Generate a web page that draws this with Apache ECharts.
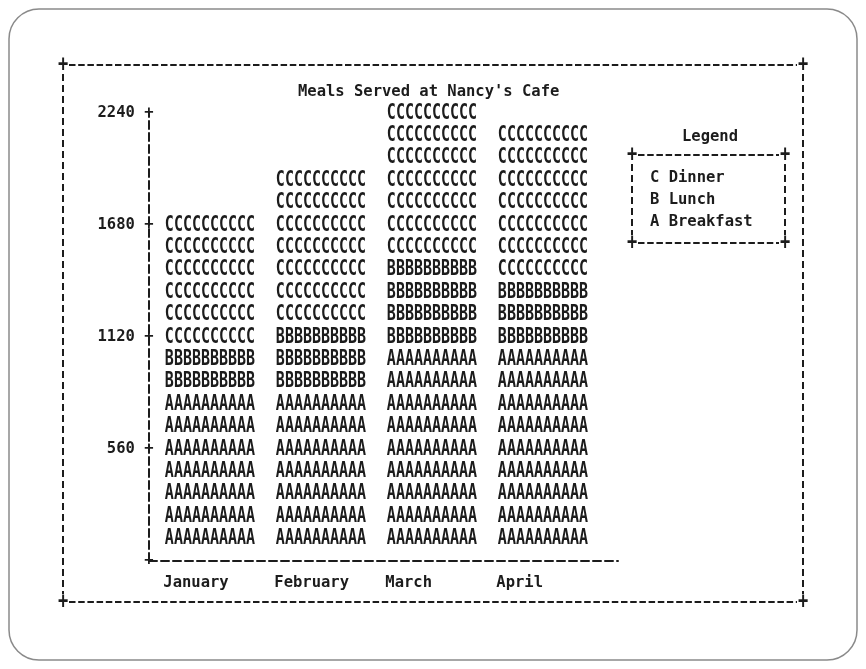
<!DOCTYPE html>
<html>
<head>
<meta charset="UTF-8">
<title>Meals Served at Nancy's Cafe</title>
<script src="https://cdn.jsdelivr.net/npm/echarts/dist/echarts.min.js"></script>
<style>
  html, body { margin: 0; padding: 0; background: #fff; }
  #main { width: 866px; height: 669px; }
</style>
</head>
<body>
<div id="main"></div>
<script type="text/javascript">
// data (one letter row = 112 meals)
var months = ['January', 'February', 'March', 'April'];
var breakfast = [784, 784, 1008, 1008];
var lunch = [224, 336, 448, 336];
var dinner = [672, 784, 784, 784];
var yTicks = [0, 560, 1120, 1680, 2240];
var rowUnit = 112;

var ink = '#1c1c1c';
var mono = '"DejaVu Sans Mono", "Liberation Mono", monospace';
var font = 'bold 15px ' + mono;

// series: name, letter, values (stacked bottom to top)
var layers = [
  { name: 'Breakfast', letter: 'A', values: breakfast },
  { name: 'Lunch', letter: 'B', values: lunch },
  { name: 'Dinner', letter: 'C', values: dinner }
];

var base = [0, 0, 0, 0];
var series = layers.map(function (l) {
  var data = l.values.map(function (v, i) {
    var d = [i, base[i], base[i] + v];
    base[i] += v;
    return d;
  });
  return {
    name: l.name,
    type: 'custom',
    xAxisIndex: 1,
    yAxisIndex: 1,
    encode: { x: 0, y: [1, 2] },
    data: data,
    itemStyle: { color: ink },
    renderItem: function (params, api) {
      var i = api.value(0), lo = api.value(1), hi = api.value(2);
      var x = api.coord([i, 0])[0];
      var rows = [];
      // one line of letters per 112 meals
      for (var v = lo + rowUnit; v <= hi + 0.5; v += rowUnit) {
        var y = api.coord([i, v])[1];
        rows.push({
          type: 'text', x: x, y: y, scaleY: 1.45,
          style: { text: l.letter.repeat(10), font: font, fill: ink, align: 'center', verticalAlign: 'middle' }
        });
      }
      return { type: 'group', children: rows };
    }
  };
});

var letterOf = {};
layers.forEach(function (l) { letterOf[l.name] = l.letter; });

// dashed frame helpers
function hline(x1, x2, y) {
  return { type: 'line', shape: { x1: x1, y1: y, x2: x2, y2: y }, style: { stroke: ink, lineWidth: 2, lineDash: [6.5, 2.7] } };
}
function vline(x, y1, y2) {
  return { type: 'line', shape: { x1: x, y1: y1, x2: x, y2: y2 }, style: { stroke: ink, lineWidth: 2, lineDash: [7, 4] } };
}
function plus(x, y) {
  return { type: 'text', x: x, y: y, scaleY: 1.3, style: { text: '+', font: 'bold 17px ' + mono, fill: ink, align: 'center', verticalAlign: 'middle' } };
}

var graphics = [
  // paper border
  { type: 'rect', shape: { x: 9, y: 9, width: 848, height: 651, r: 30 }, style: { fill: 'none', stroke: '#8a8a8a', lineWidth: 1.5 } },
  // outer box
  hline(69, 797, 65), hline(69, 797, 602), vline(63, 74, 594), vline(803, 74, 594),
  plus(63, 65), plus(803, 65), plus(63, 602), plus(803, 602),
  // legend box
  hline(638, 779, 155), hline(638, 779, 243), vline(632, 164, 235), vline(785, 164, 235),
  plus(632, 155), plus(785, 155), plus(632, 243), plus(785, 243)
];

var myChart = echarts.init(document.getElementById('main'));

var option = {
  backgroundColor: '#fff',
  animation: false,
  title: [
    { text: "Meals Served at Nancy's Cafe", left: 293, top: 79,
      textStyle: { fontFamily: mono, fontSize: 15.5, fontWeight: 'bold', color: ink } },
    { text: 'Legend', left: 677, top: 124,
      textStyle: { fontFamily: mono, fontSize: 15.5, fontWeight: 'bold', color: ink } }
  ],
  legend: {
    data: ['Dinner', 'Lunch', 'Breakfast'],
    orient: 'vertical',
    left: 645, top: 170,
    padding: 0,
    icon: 'none',
    itemWidth: 0, itemHeight: 16, itemGap: 6,
    selectedMode: false,
    formatter: function (name) { return letterOf[name] + ' ' + name; },
    textStyle: { fontFamily: mono, fontSize: 15.5, fontWeight: 'bold', color: ink, lineHeight: 16 }
  },
  grid: [
    { left: 149, right: 248, top: 113, bottom: 108 },
    { left: 154.5, right: 267.5, top: 113, bottom: 108 }
  ],
  xAxis: [
    {
      type: 'value', gridIndex: 0, min: 0, max: 1,
      axisLine: { show: true, lineStyle: { color: ink, width: 2, type: 'dashed' } },
      axisTick: { show: false }, axisLabel: { show: false }, splitLine: { show: false }
    },
    {
      type: 'category', gridIndex: 1, data: months,
      axisLine: { show: false }, axisTick: { show: false }, splitLine: { show: false },
      axisLabel: {
        interval: 0, margin: 14, color: ink, fontFamily: mono, fontSize: 15.5, fontWeight: 'bold',
        formatter: function (v) { return v.padEnd(10); }
      }
    }
  ],
  yAxis: [
    {
      type: 'value', gridIndex: 0, min: yTicks[0], max: yTicks[yTicks.length - 1], interval: 560,
      axisLine: { show: true, lineStyle: { color: ink, width: 2, type: 'dashed' } },
      axisTick: { show: false }, splitLine: { show: false },
      axisLabel: {
        margin: -4.5, color: ink, fontFamily: mono, fontSize: 15.5, fontWeight: 'bold',
        formatter: function (v) { return v === 0 ? '+' : v + ' +'; }
      }
    },
    {
      type: 'value', gridIndex: 1, min: yTicks[0], max: yTicks[yTicks.length - 1], interval: 560,
      show: false
    }
  ],
  graphic: graphics,
  series: series
};

myChart.setOption(option);
</script>
</body>
</html>
